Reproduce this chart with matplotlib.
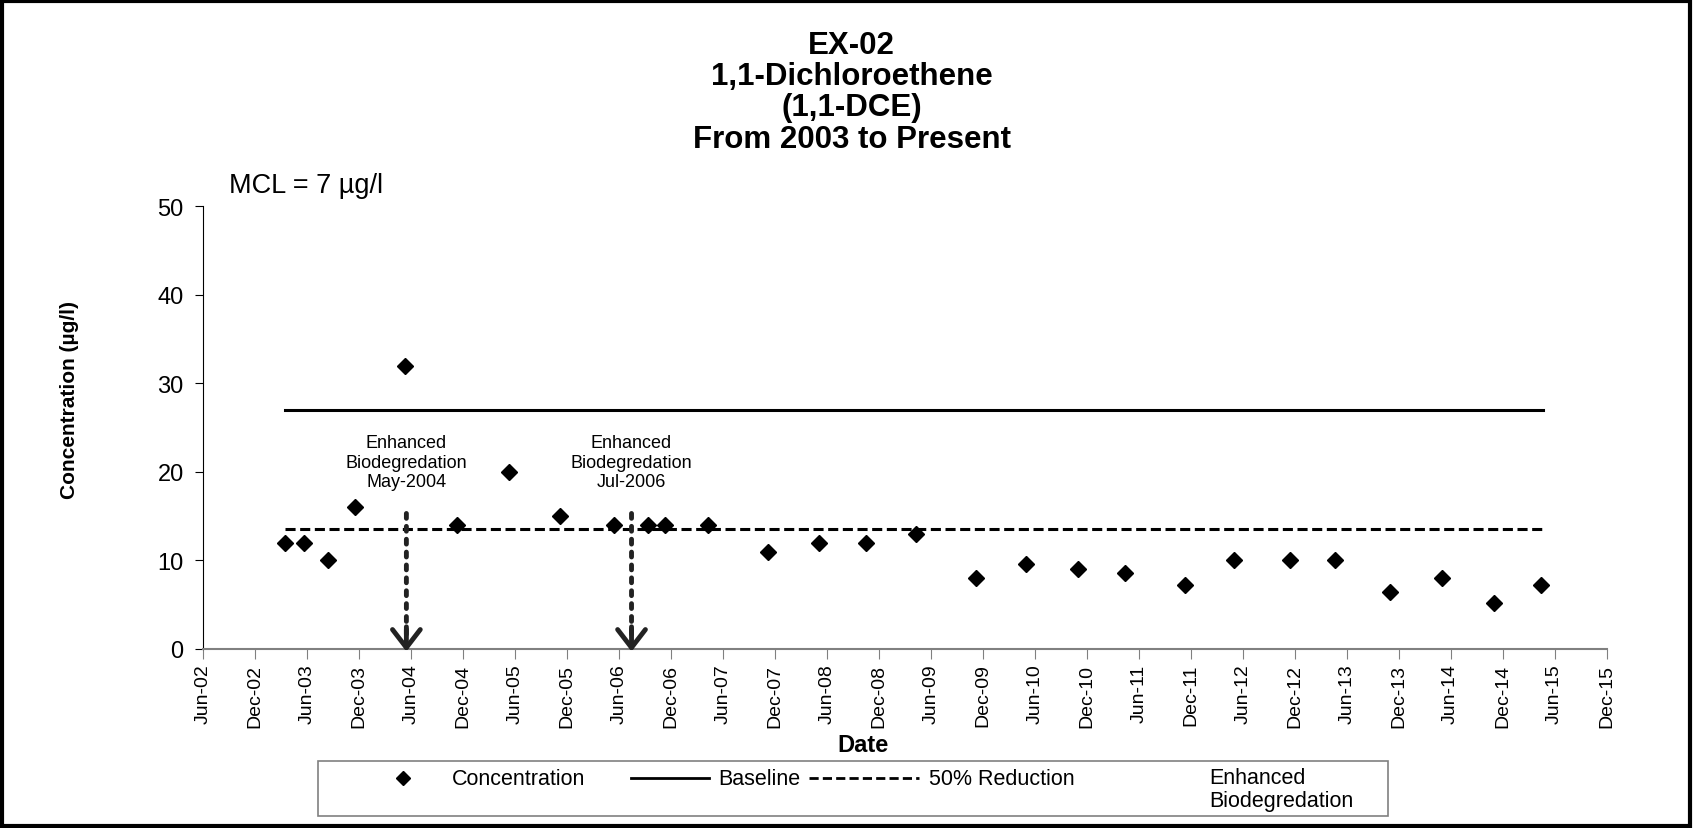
import matplotlib
matplotlib.use("Agg")
import matplotlib.pyplot as plt
import matplotlib.dates as mdates
from matplotlib.lines import Line2D
from matplotlib.patches import Rectangle
import numpy as np
import pandas as pd

plt.rcParams['font.family'] = ['Liberation Sans', 'DejaVu Sans']

# sample dates and 1,1-DCE concentrations (ug/l)
sample_dates = ['2003-03-15', '2003-05-20', '2003-08-15', '2003-11-15', '2004-05-10',
                '2004-11-10', '2005-05-10', '2005-11-05', '2006-05-15', '2006-09-10',
                '2006-11-10', '2007-04-10', '2007-11-05', '2008-05-05', '2008-10-15',
                '2009-04-10', '2009-11-05', '2010-05-01', '2010-11-01', '2011-04-15',
                '2011-11-10', '2012-05-01', '2012-11-15', '2013-04-20', '2013-11-01',
                '2014-05-01', '2014-11-01', '2015-04-15']
conc = [12, 12, 10, 16, 32, 14, 20, 15, 14, 14, 14, 14, 11, 12, 12, 13,
        8, 9.6, 9, 8.6, 7.2, 10, 10, 10, 6.4, 8, 5.2, 7.2]

baseline_dates = ['2003-03-15', '2015-04-20']
baseline = 27.0
reduction = 13.5

event_dates = ['2004-05-15', '2006-07-15']
event_labels = ['Enhanced\nBiodegredation\nMay-2004', 'Enhanced\nBiodegredation\nJul-2006']

x = pd.to_datetime(sample_dates)
xb = pd.to_datetime(baseline_dates)
xe = pd.to_datetime(event_dates)

dash = (0, (3.3, 1.5))

fig = plt.figure(figsize=(16.93, 8.29), dpi=100)
ax = fig.add_axes([0.120, 0.216, 0.829, 0.534])

ax.plot(x, conc, linestyle='none', marker='D', markersize=8.5, color='black')
ax.plot(xb, [baseline, baseline], color='black', lw=2.2)
ax.plot(xb, [reduction, reduction], color='black', lw=2.2, linestyle=dash)

for d, lab in zip(xe, event_labels):
    # dotted shaft
    ax.annotate('', xy=(d, 1.0), xytext=(d, 15.3), annotation_clip=False,
                arrowprops=dict(arrowstyle='-', linestyle=':', lw=3.5, color='#222222',
                                shrinkA=0, shrinkB=0))
    # open V head
    ax.annotate('', xy=(d, -0.3), xytext=(d, 2.5), annotation_clip=False,
                arrowprops=dict(arrowstyle='->,head_width=0.5,head_length=0.65',
                                mutation_scale=20, lw=3.5, color='#222222',
                                shrinkA=0, shrinkB=0))
    ax.text(d, 21.1, lab, ha='center', va='center', fontsize=13, linespacing=1.2)

ax.set_ylim(0, 50)
ax.set_yticks(np.arange(0, 51, 10))
ax.set_xlim(pd.Timestamp('2002-06-01'), pd.Timestamp('2015-12-01'))
ticks = pd.date_range('2002-06-01', '2015-12-01', freq='6MS')
ax.set_xticks(ticks)
ax.xaxis.set_major_formatter(mdates.DateFormatter('%b-%y'))
ax.tick_params(axis='x', rotation=90, labelsize=14, length=7, color='#808080', direction='out')
ax.tick_params(axis='y', labelsize=17, length=6, pad=8, direction='out')

for s in ['top', 'right']:
    ax.spines[s].set_visible(False)
ax.spines['bottom'].set_color('#808080')
ax.spines['bottom'].set_linewidth(1.5)

fig.text(0.041, 0.517, 'Concentration (µg/l)', rotation=90, ha='center', va='center',
         fontsize=15, fontweight='bold')
fig.text(0.51, 0.101, 'Date', ha='center', va='center', fontsize=17, fontweight='bold')
fig.text(0.135, 0.776, 'MCL = 7 µg/l', ha='left', va='center', fontsize=19.5)
fig.text(0.503, 0.963, 'EX-02\n1,1-Dichloroethene\n(1,1-DCE)\nFrom 2003 to Present',
         ha='center', va='top', fontsize=22.5, fontweight='bold', linespacing=1.06)

# legend box drawn by hand so single-line entries align with the first line
fig.patches.append(Rectangle((0.188, 0.0145), 0.632, 0.066, transform=fig.transFigure,
                             fill=False, edgecolor='#808080', lw=1.2))
row = 0.060
fs = 15.5
fig.lines.append(Line2D([0.238], [row], transform=fig.transFigure, linestyle='none',
                        marker='D', markersize=7.5, color='black'))
fig.text(0.267, row, 'Concentration', ha='left', va='center', fontsize=fs)
fig.lines.append(Line2D([0.373, 0.419], [row, row], transform=fig.transFigure,
                        color='black', lw=2))
fig.text(0.424, row, 'Baseline', ha='left', va='center', fontsize=fs)
fig.lines.append(Line2D([0.478, 0.543], [row, row], transform=fig.transFigure,
                        color='black', lw=2, linestyle=dash))
fig.text(0.549, row, '50% Reduction', ha='left', va='center', fontsize=fs)
fig.text(0.714, 0.047, 'Enhanced\nBiodegredation', ha='left', va='center', fontsize=fs,
         linespacing=1.14)

fig.patches.append(Rectangle((0.001, 0.002), 0.997, 0.996, transform=fig.transFigure,
                             fill=False, edgecolor='black', lw=3))

fig.savefig('out.png', dpi=100)
